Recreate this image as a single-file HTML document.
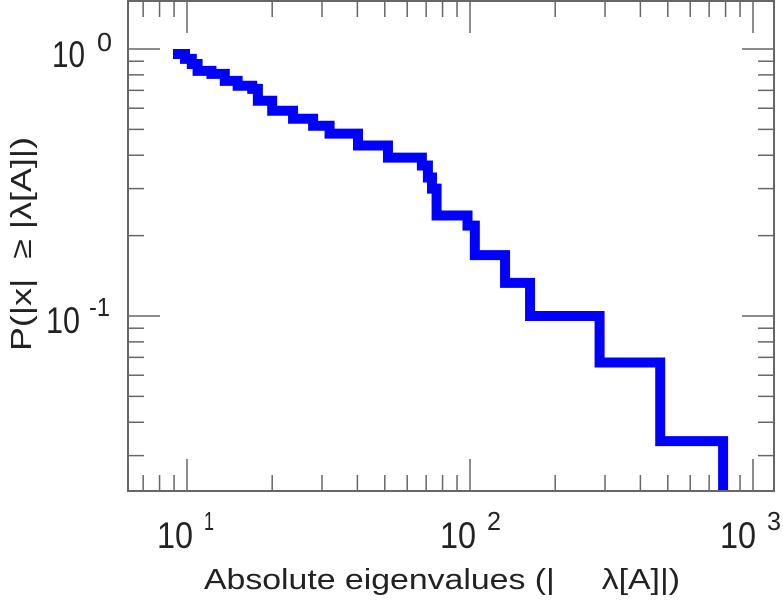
<!DOCTYPE html>
<html><head><meta charset="utf-8"><style>
html,body{margin:0;padding:0;background:#fff;}
svg{display:block;font-family:"Liberation Sans",Arial,sans-serif;}
</style></head><body>
<svg id="chart" width="783" height="600" viewBox="0 0 783 600" xmlns="http://www.w3.org/2000/svg">
<g id="ticks"></g>
<path id="series" fill="none" stroke="#0000ff" stroke-width="10" stroke-linecap="square" stroke-linejoin="miter"/>
<rect x="128" y="1" width="646" height="490" fill="none" stroke="#666" stroke-width="2"/>
<g fill="#222">
<text x="52" y="67" font-size="37" textLength="33" lengthAdjust="spacingAndGlyphs">10</text>
<text x="97" y="51" font-size="26" textLength="15" lengthAdjust="spacingAndGlyphs">0</text>
<text x="46" y="333" font-size="37" textLength="34" lengthAdjust="spacingAndGlyphs">10</text>
<text x="89" y="316" font-size="26" textLength="21" lengthAdjust="spacingAndGlyphs">-1</text>
</g>
<g fill="#222">
<text x="157" y="548" font-size="37" textLength="36" lengthAdjust="spacingAndGlyphs">10</text>
<text x="204" y="530" font-size="26" textLength="10" lengthAdjust="spacingAndGlyphs">1</text>
<text x="440" y="548" font-size="37" textLength="36" lengthAdjust="spacingAndGlyphs">10</text>
<text x="487" y="530" font-size="26" textLength="14" lengthAdjust="spacingAndGlyphs">2</text>
<text x="720" y="548" font-size="37" textLength="36" lengthAdjust="spacingAndGlyphs">10</text>
<text x="767" y="530" font-size="26" textLength="14" lengthAdjust="spacingAndGlyphs">3</text>
</g>
<text x="204" y="589" font-size="29" fill="#222" textLength="476" lengthAdjust="spacingAndGlyphs" xml:space="preserve">Absolute eigenvalues (|     λ[A]|)</text>
<text transform="translate(31,351) rotate(-90)" font-size="29" fill="#222" textLength="214" lengthAdjust="spacingAndGlyphs" xml:space="preserve">P(|x|  ≥ |λ[A]|)</text>
</svg>
<script>
const eigenvalues = [9.29, 9.84, 10.4, 10.9, 12.2, 13.6, 15.1, 17.0, 17.8, 20.0, 23.7, 27.9, 31.9, 40.2, 51.3, 67.6, 71.0, 73.4, 76.2, 98.0, 104, 133, 163, 287, 470, 784];
const probabilities = [0.958, 0.918, 0.879, 0.828, 0.807, 0.760, 0.728, 0.709, 0.640, 0.587, 0.548, 0.516, 0.482, 0.435, 0.392, 0.366, 0.330, 0.300, 0.238, 0.218, 0.169, 0.133, 0.100, 0.067, 0.034, 0.02];
const xDecades = [1, 2, 3];
const yDecades = [0, -1];

const X0 = 128, X1 = 774, Y0 = 1, Y1 = 491;
function xScale(v){ return 187 + (Math.log10(v) - 1) * 283; }
function yScale(p){ return 49 - Math.log10(p) * 267; }

const ns = "http://www.w3.org/2000/svg";
const tg = document.getElementById("ticks");
function line(x1,y1,x2,y2,name){
  const l = document.createElementNS(ns,"line");
  l.setAttribute("x1",x1);l.setAttribute("y1",y1);l.setAttribute("x2",x2);l.setAttribute("y2",y2);
  l.setAttribute("stroke","#666");l.setAttribute("stroke-width","1.5");
  
  
  tg.appendChild(l);
}
// x ticks
for (let d = 0; d <= 3; d++) {
  for (let m = 1; m <= 9; m++) {
    const v = m * Math.pow(10, d);
    const x = xScale(v);
    if (x < X0 + 1 || x > X1 - 1) continue;
    const len = m === 1 ? 32 : 16;
    line(x, Y1, x, Y1 - len, "x-tick");
    line(x, Y0, x, Y0 + len, "x-tick-top");
  }
}
// y ticks
for (let d = -2; d <= 0; d++) {
  for (let m = 1; m <= 9; m++) {
    const v = m * Math.pow(10, d);
    const y = yScale(v);
    if (y < Y0 + 1 || y > Y1 - 1) continue;
    const len = m === 1 ? 32 : 16;
    line(X0, y, X0 + len, y, "y-tick");
    line(X1, y, X1 - len, y, "y-tick-right");
  }
}
// stair series
let d = "M" + xScale(eigenvalues[0]) + "," + yScale(probabilities[0]);
for (let i = 1; i < eigenvalues.length; i++) {
  const x = xScale(eigenvalues[i]);
  d += " L" + x + "," + yScale(probabilities[i-1]);
  d += " L" + x + "," + Math.min(yScale(probabilities[i]), Y1 - 5);
}
document.getElementById("series").setAttribute("d", d);
</script>
</body></html>
